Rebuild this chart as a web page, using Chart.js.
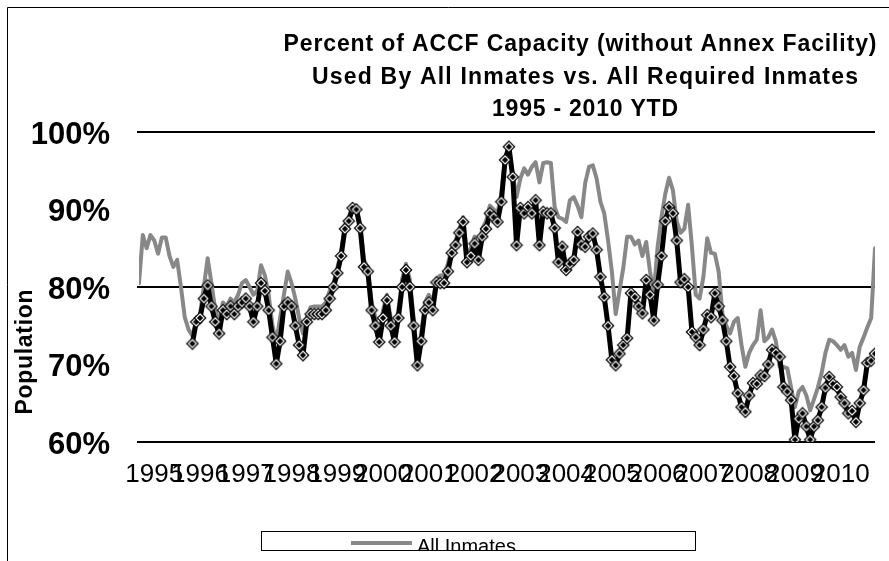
<!DOCTYPE html>
<html>
<head>
<meta charset="utf-8">
<script src="https://cdn.jsdelivr.net/npm/chart.js@4.4.1/dist/chart.umd.min.js"></script>
<style>
html,body{margin:0;padding:0;background:#fff;}
#wrap{width:889px;height:561px;position:relative;}
</style>
</head>
<body>
<div id="wrap"><canvas id="c" width="889" height="561"></canvas></div>
<script>
// ---- data (monthly, first point = Sep 1994) ----
const years = ['1995','1996','1997','1998','1999','2000','2001','2002','2003','2004','2005','2006','2007','2008','2009','2010'];
const firstJanIndex = 4; // index of Jan 1995 in the monthly series

const allInmates = [
 80.5,86.7,85,86.7,86,84.3,86.4,86.4,84,82.6,83.5,80,76.1,74.5,73.7,75.5,76.5,80,83.7,80.5,
 77,75.5,78,77.5,78.5,78,79,80.5,80.9,80,79,79.5,82.8,81.5,79,75,73,76,79,82,
 80.5,78.5,76,74,76,77.4,77.5,77.5,77.5,78,79.5,80.5,82.5,84.5,88,89,90.5,90.5,88,83.5,
 82.5,78,76,74,77,79,76,74,77,81,83,81,76,71,74,78,79,78,81,81.5,
 81.5,83,85,86,87.5,89,84,85,86.5,84.5,87.5,88.5,90.5,90,89.5,92,96.5,98,94.5,91.6,
 94,95.3,94.5,95.5,96.1,93.5,96,96.1,96,90.3,89,88.8,88.4,91.2,91.6,90.5,89,93.4,95.5,95.7,
 94,91,89.5,86,82,76.5,79.5,82.5,86.5,86.5,85.5,86,84,85.8,82,79.2,85.2,89,92,94.1,
 92.5,88.5,87,87.5,90.6,85.2,79,78.5,81.3,86.3,84.4,84.3,82,76.5,75,74,75.5,76,72.5,69.7,
 71.5,72.5,73.2,77,73,73.5,74.5,73,69.7,69.7,69.5,67,64.5,66.5,67.1,66,64.1,65.5,67,68.9,
 71.5,73.2,73,72.5,71.9,72.5,71,71.5,69.3,72.3,73.5,74.8,76,85
];

const requiredInmates = [
 null,null,null,null,null,null,null,null,null,null,null,null,null,null,
 72.7,75.5,76,78.5,80.2,77.5,75.5,74,77,76.5,77.5,76.5,77.5,78,78.5,77.5,75.5,77.5,80.5,79.5,
 77,73.5,70.1,73,77.5,78,77.5,75,72.5,71.2,75.5,76.5,76.5,76.5,76.5,77,78.5,80,81.8,84,
 87.5,88.5,90.2,90,87.6,82.6,82,77,75,72.9,76,78.3,75,72.9,76,80,82.2,80,75,69.9,
 73,77,78,77,80.6,80.5,80.5,82,84.4,85.4,87,88.4,83.2,84,85.6,83.5,86.5,87.5,89.5,89,
 88.4,91,96.4,98.1,94.2,85.4,90.2,89.5,90.3,89.5,91.2,85.4,89.7,89.5,89.5,87.6,83.2,85.2,82.2,83,
 83.5,87.1,85.5,85.2,86.5,86.9,84.8,81.3,78.7,75,70.6,69.9,71.4,72.5,73.4,79.2,78.7,77.5,76.6,80.9,
 79,75.7,80.3,84,88.5,90.3,89.5,86,80.6,81,80,74.2,73.5,72.5,74.5,76.4,76.1,79.2,77.5,75.7,
 73,69.7,68.5,66.3,64.5,63.9,66,67.6,67.5,68.6,68.5,70,71.9,71.5,71,67.1,66.5,65.4,60.3,63,
 63.7,62,60.3,62,62.8,64.5,67,68.4,67.5,67.1,65.8,65,63.7,64,62.6,65,66.7,70.2,70.5,71.4
];

const titleLines = ['Percent of ACCF Capacity (without Annex Facility)','Used By All Inmates vs. All Required Inmates','1995 - 2010 YTD'];
const yTitle = 'Population';
const legendLabel = 'All Inmates';

// ---- marker image (Excel-like diamond) ----
function makeDiamond(){
  const c = document.createElement('canvas');
  c.width = 14; c.height = 14;
  const g = c.getContext('2d');
  const cx = 7, cy = 7;
  g.fillStyle = '#000';
  g.beginPath(); g.moveTo(cx,cy-6.5); g.lineTo(cx+6.5,cy); g.lineTo(cx,cy+6.5); g.lineTo(cx-6.5,cy); g.closePath(); g.fill();
  g.strokeStyle = '#fff'; g.lineWidth = 1.1;
  g.beginPath(); g.moveTo(cx,cy-4); g.lineTo(cx+4,cy); g.lineTo(cx,cy+4); g.lineTo(cx-4,cy); g.closePath(); g.stroke();
  return c;
}
const diamond = makeDiamond();

const toXY = arr => arr.map((v,i)=> v===null ? null : {x:i, y:v}).filter(p=>p!==null);

// draw text stretched to a given width with letter spacing (Excel-like rendering)
function fitText(ctx, text, cx, cy, width){
  ctx.letterSpacing = '0px';
  const w = ctx.measureText(text).width;
  const ls = Math.max(0, (width - w) / (text.length - 1));
  ctx.letterSpacing = ls + 'px';
  ctx.fillText(text, cx + ls/2, cy);
  ctx.letterSpacing = '0px';
}

const decor = {
  id:'decor',
  beforeDraw(chart){
    const ctx = chart.ctx;
    ctx.save(); ctx.fillStyle='#fff'; ctx.fillRect(0,0,chart.width,chart.height); ctx.restore();
  },
  afterDraw(chart){
    const ctx = chart.ctx;
    ctx.save();
    // frame
    ctx.strokeStyle='#000'; ctx.lineWidth=1;
    ctx.beginPath(); ctx.moveTo(7.5,561); ctx.lineTo(7.5,7.5); ctx.lineTo(889,7.5); ctx.stroke();
    // title
    ctx.fillStyle='#000';
    ctx.textAlign='center'; ctx.textBaseline='middle';
    ctx.font='bold 23px "Liberation Sans", Arial, sans-serif';
    fitText(ctx, titleLines[0], 580, 45, 593);
    fitText(ctx, titleLines[1], 585, 78, 546);
    fitText(ctx, titleLines[2], 585, 110, 186);
    // y title
    ctx.save();
    ctx.translate(26,352); ctx.rotate(-Math.PI/2);
    ctx.font='bold 23px "Liberation Sans", Arial, sans-serif';
    fitText(ctx, yTitle, 0, 0, 125);
    ctx.restore();
    // legend
    ctx.strokeStyle='#000'; ctx.lineWidth=1;
    ctx.strokeRect(261.5,531.5,434,19);
    ctx.save();
    ctx.beginPath(); ctx.rect(262,532,433,18.5); ctx.clip();
    ctx.strokeStyle='#888'; ctx.lineWidth=4;
    ctx.beginPath(); ctx.moveTo(351,543); ctx.lineTo(412,543); ctx.stroke();
    ctx.fillStyle='#000'; ctx.textAlign='left'; ctx.textBaseline='alphabetic';
    ctx.font='20px "Liberation Sans", Arial, sans-serif';
    ctx.fillText(legendLabel,417,553);
    ctx.restore();
    ctx.restore();
  }
};

new Chart(document.getElementById('c'), {
  type:'line',
  data:{
    datasets:[
      {label:'All Required Inmates', data:toXY(requiredInmates), borderColor:'#000', borderWidth:5,
       pointStyle:diamond, pointRadius:6, order:1, tension:0},
      {label:'All Inmates', data:toXY(allInmates), borderColor:'#888', borderWidth:4,
       pointRadius:0, order:2, tension:0}
    ]
  },
  options:{
    responsive:false, animation:false, devicePixelRatio:1,
    layout:{padding:{left:0,top:132,right:14,bottom:0}},
    plugins:{legend:{display:false}, title:{display:false}, tooltip:{enabled:false}},
    elements:{line:{borderJoinStyle:'round', borderCapStyle:'round'}},
    scales:{
      x:{
        type:'linear', min:0, max:allInmates.length-1,
        afterBuildTicks:(s)=>{ s.ticks = years.map((y,i)=>({value:firstJanIndex+12*i})); },
        afterFit:(s)=>{ s.height = 119; },
        ticks:{autoSkip:false, maxRotation:0, padding:9, color:'#000',
               font:{family:'"Liberation Sans", Arial, sans-serif', size:26},
               callback:(v,i)=>years[i]},
        grid:{display:false}, border:{display:false}
      },
      y:{
        min:60, max:100,
        afterFit:(s)=>{ s.width = 139; },
        ticks:{stepSize:10, padding:27, labelOffset:3, color:'#000',
               font:{family:'"Liberation Sans", Arial, sans-serif', size:31, weight:'bold'},
               callback:v=>v+'%'},
        grid:{color:(c)=> (c.tick && c.tick.value%20===0) ? '#000' : 'rgba(0,0,0,0)', lineWidth:2, drawTicks:true, tickLength:2},
        border:{display:false}
      }
    }
  },
  plugins:[decor]
});
</script>
</body>
</html>
